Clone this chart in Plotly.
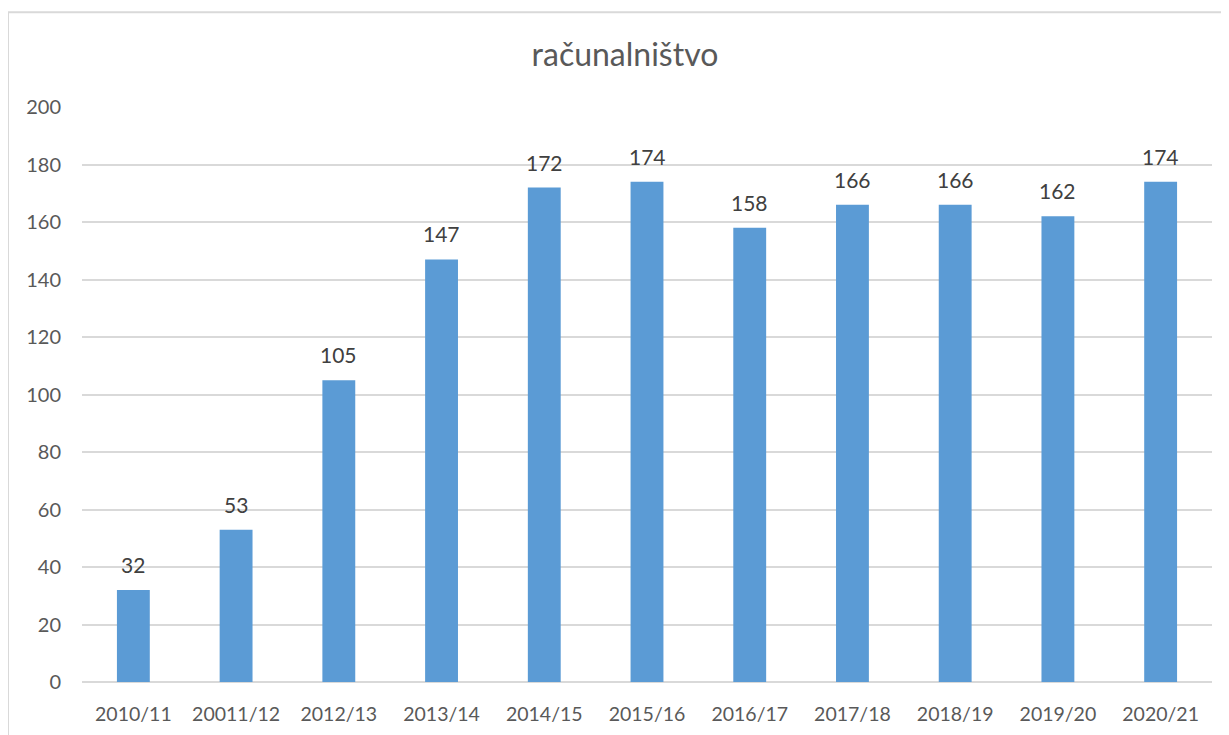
import plotly.graph_objects as go

categories = ["2010/11", "20011/12", "2012/13", "2013/14", "2014/15", "2015/16",
              "2016/17", "2017/18", "2018/19", "2019/20", "2020/21"]
values = [32, 53, 105, 147, 172, 174, 158, 166, 166, 162, 174]
y_ticks = [0, 20, 40, 60, 80, 100, 120, 140, 160, 180, 200]

FONT = "Lato, 'Open Sans', 'Liberation Sans', sans-serif"

W, H = 1221, 727

fig = go.Figure()
fig.add_trace(go.Bar(
    x=categories, y=values,
    marker=dict(color="#5B9BD5", line=dict(width=0)),
    hoverinfo="x+y",
))

for c, v in zip(categories, values):
    fig.add_annotation(x=c, y=v, text=str(v), showarrow=False,
                       yanchor="bottom", yshift=11,
                       font=dict(family=FONT, size=21, color="#404040"))

# chart border (top and left visible, as in the cropped reference)
fig.add_shape(type="path", xref="paper", yref="paper",
              path="M -0.0655 -0.2 L -0.0655 1.165 L 1.2 1.165",
              line=dict(color="#D9D9D9", width=2))

fig.update_layout(
    width=W, height=H,
    margin=dict(l=74, r=17, t=99, b=53),
    paper_bgcolor="white", plot_bgcolor="white",
    title=dict(text="računalništvo", x=617/W, xref="container", xanchor="center",
               y=1-47/H, yref="container", yanchor="middle",
               font=dict(family=FONT, size=32, color="#595959")),
    bargap=0.68,
    showlegend=False,
    font=dict(family=FONT, color="#595959"),
)
fig.update_xaxes(showline=False, ticks="", tickfont=dict(size=19.5, color="#595959"),
                 showgrid=False, ticklabelstandoff=18, automargin=False)
fig.update_yaxes(range=[0, 200], tickvals=y_ticks, showgrid=True, gridcolor="#D9D9D9",
                 gridwidth=1.5, zeroline=True, zerolinecolor="#D9D9D9", zerolinewidth=1.5,
                 ticks="", ticklabelstandoff=20, tickfont=dict(size=20, color="#595959"),
                 automargin=False)

fig.write_html("out.html")
